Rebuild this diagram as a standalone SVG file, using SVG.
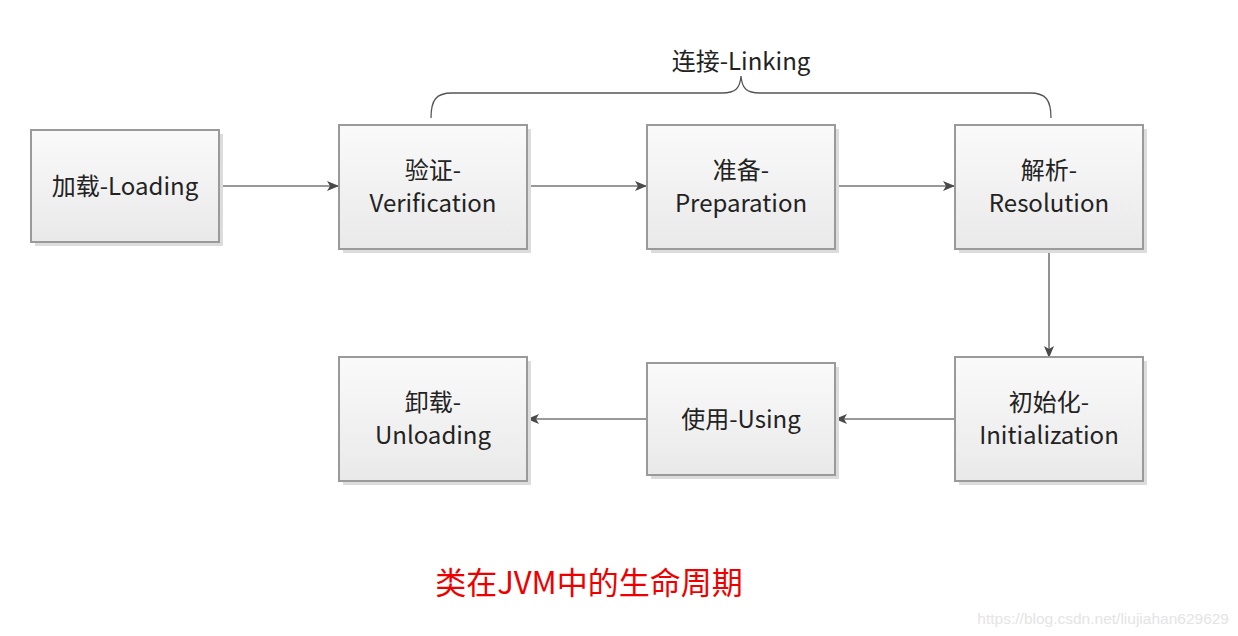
<svg xmlns="http://www.w3.org/2000/svg" width="1238" height="636" viewBox="0 0 1238 636">
<defs>
<linearGradient id="g" x1="0" y1="0" x2="0" y2="1">
<stop offset="0" stop-color="#fafafa"/>
<stop offset="1" stop-color="#e9e9e9"/>
</linearGradient>
<marker id="arr" viewBox="0 0 12 10" refX="11" refY="5" markerWidth="12" markerHeight="10" markerUnits="userSpaceOnUse" orient="auto">
<path d="M0,0 L12,5 L0,10 L3,5 Z" fill="#4a4a4a"/>
</marker>
<style>
.sh{fill:#dcdcdc}
.bx{fill:url(#g);stroke:#9a9a9a;stroke-width:2}
.t{font-family:"Noto Sans CJK SC","Noto Sans",sans-serif;font-size:24px;fill:#222;text-anchor:middle}
.c{fill:none;stroke:#777;stroke-width:1.6}
.br{fill:none;stroke:#555;stroke-width:1.3}
</style>
</defs>
<rect width="1238" height="636" fill="#fff"/>
<g id="connectors">
<line class="c" x1="220" y1="186" x2="338" y2="186" marker-end="url(#arr)"/>
<line class="c" x1="528" y1="186" x2="646" y2="186" marker-end="url(#arr)"/>
<line class="c" x1="836" y1="186" x2="954" y2="186" marker-end="url(#arr)"/>
<line class="c" x1="1049" y1="250" x2="1049" y2="357" marker-end="url(#arr)"/>
<line class="c" x1="954" y1="419" x2="836" y2="419" marker-end="url(#arr)"/>
<line class="c" x1="646" y1="419" x2="528" y2="419" marker-end="url(#arr)"/>
</g>
<g id="linking">
<path class="br" d="M431,118 C431,100 436,93 452,93 L722,93 C736,93 740,88 741,76 C742,88 746,93 760,93 L1030,93 C1046,93 1051,100 1051,118"/>
<text class="t" x="741" y="70">连接-Linking</text>
</g>
<g id="loading">
<rect class="sh" x="35" y="134" width="188" height="112"/>
<rect class="bx" x="31" y="130" width="188" height="112"/>
<text class="t" x="125" y="195">加载-Loading</text>
</g>
<g id="verification">
<rect class="sh" x="343" y="129" width="188" height="124"/>
<rect class="bx" x="339" y="125" width="188" height="124"/>
<text class="t" x="433" y="179">验证-</text>
<text class="t" x="433" y="212">Verification</text>
</g>
<g id="preparation">
<rect class="sh" x="651" y="129" width="188" height="124"/>
<rect class="bx" x="647" y="125" width="188" height="124"/>
<text class="t" x="741" y="179">准备-</text>
<text class="t" x="741" y="212">Preparation</text>
</g>
<g id="resolution">
<rect class="sh" x="959" y="129" width="188" height="124"/>
<rect class="bx" x="955" y="125" width="188" height="124"/>
<text class="t" x="1049" y="179">解析-</text>
<text class="t" x="1049" y="212">Resolution</text>
</g>
<g id="initialization">
<rect class="sh" x="959" y="361" width="188" height="124"/>
<rect class="bx" x="955" y="357" width="188" height="124"/>
<text class="t" x="1049" y="411">初始化-</text>
<text class="t" x="1049" y="444">Initialization</text>
</g>
<g id="using">
<rect class="sh" x="651" y="367" width="188" height="112"/>
<rect class="bx" x="647" y="363" width="188" height="112"/>
<text class="t" x="741" y="428">使用-Using</text>
</g>
<g id="unloading">
<rect class="sh" x="343" y="361" width="188" height="124"/>
<rect class="bx" x="339" y="357" width="188" height="124"/>
<text class="t" x="433" y="411">卸载-</text>
<text class="t" x="433" y="444">Unloading</text>
</g>
<text x="589" y="594" font-family="'Noto Sans CJK SC','Noto Sans',sans-serif" font-size="31" fill="#ee0000" text-anchor="middle">类在JVM中的生命周期</text>
<text x="1229" y="624" font-family="'Liberation Sans',Arial,sans-serif" font-size="15.5" fill="#e4e4e4" text-anchor="end">https://blog.csdn.net/liujiahan629629</text>
</svg>
